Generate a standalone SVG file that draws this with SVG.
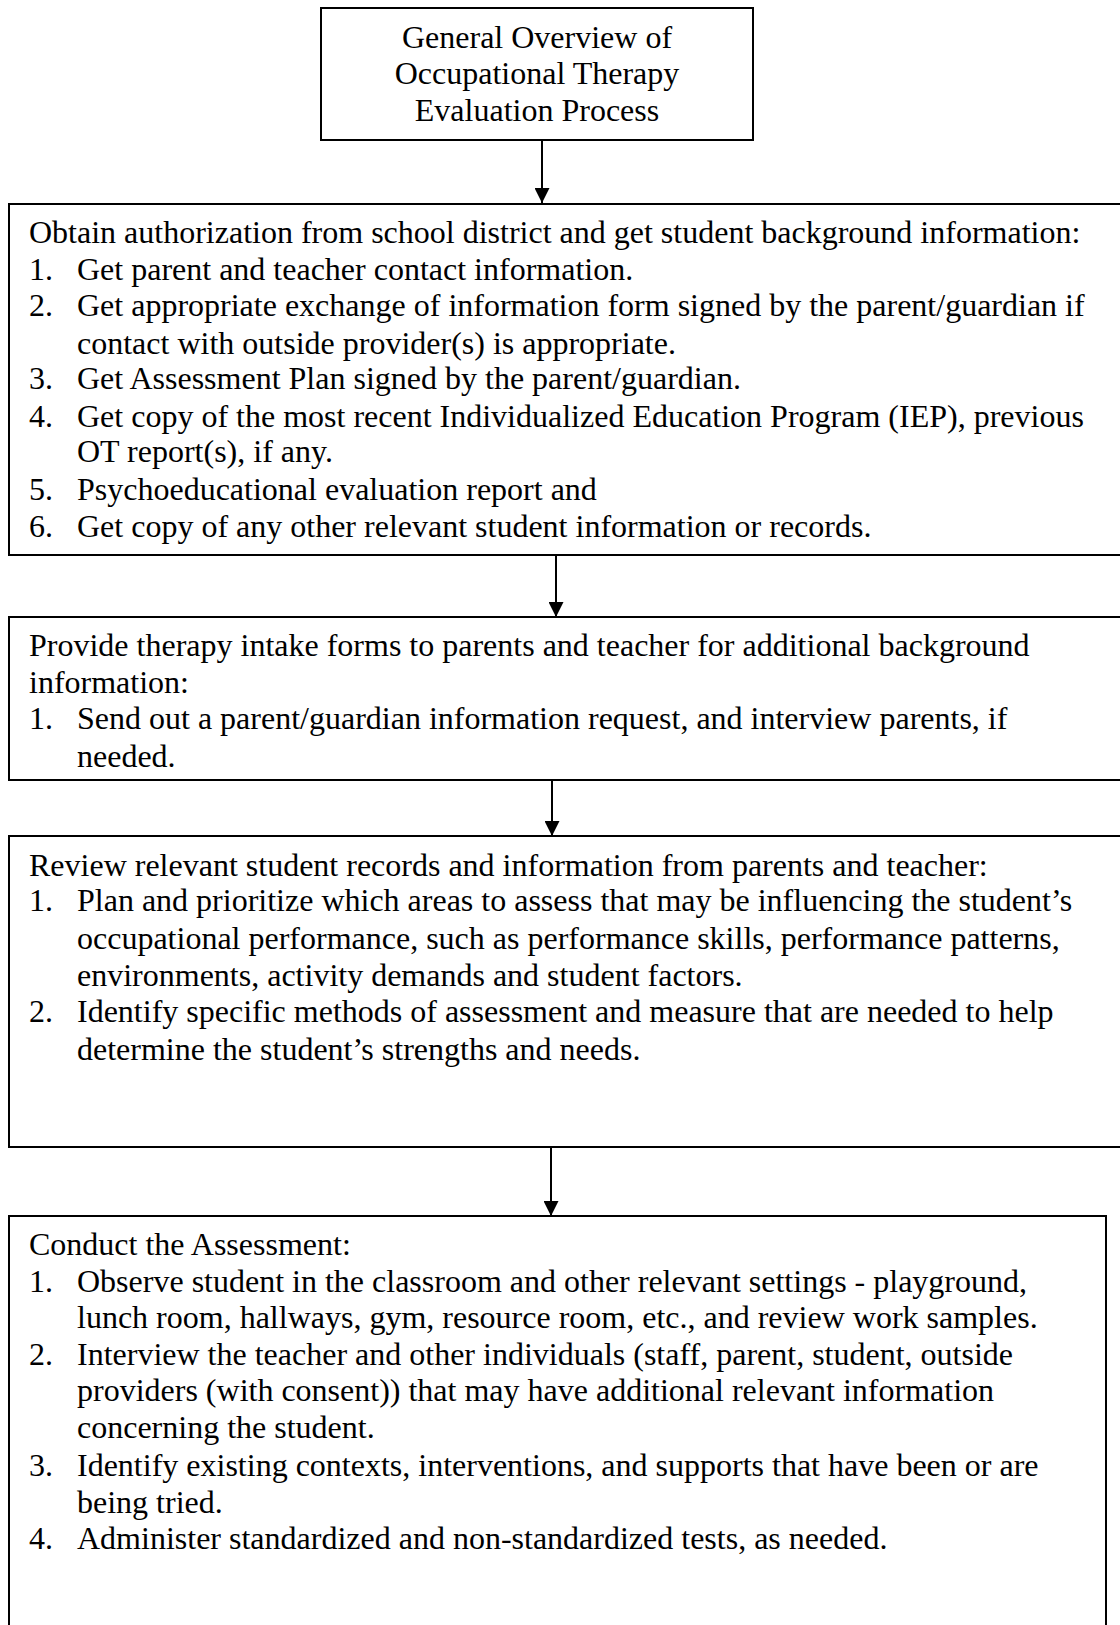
<svg xmlns="http://www.w3.org/2000/svg" width="1120" height="1625" viewBox="0 0 1120 1625">
<defs>
<marker id="ah" markerWidth="15" markerHeight="15" refX="15" refY="7.5" orient="auto" markerUnits="userSpaceOnUse">
<path d="M0,0 L15,7.5 L0,15 Z" fill="#000"/>
</marker>
<style>
.box{fill:#fff;stroke:#000;stroke-width:2}
.t{font-family:"Liberation Serif","Times New Roman",serif;font-size:32px;fill:#000}
.c{text-anchor:middle}
.edge{stroke:#000;stroke-width:2;fill:none}
</style>
</defs>
<rect width="1120" height="1625" fill="#fff"/>
<g id="connectors">
<line class="edge" x1="542" y1="140" x2="542" y2="203" marker-end="url(#ah)"/>
<line class="edge" x1="556" y1="555" x2="556" y2="617" marker-end="url(#ah)"/>
<line class="edge" x1="552" y1="774" x2="552" y2="836" marker-end="url(#ah)"/>
<line class="edge" x1="551" y1="1147" x2="551" y2="1216" marker-end="url(#ah)"/>
</g>
<g id="node-overview">
<rect class="box" x="321" y="8" width="432" height="132"/>
<text class="t c" x="537" y="48">General Overview of</text>
<text class="t c" x="537" y="84">Occupational Therapy</text>
<text class="t c" x="537" y="121">Evaluation Process</text>
</g>
<g id="node-authorization">
<rect class="box" x="9" y="204" width="1130" height="351"/>
<text class="t" x="29" y="243">Obtain authorization from school district and get student background information:</text>
<text class="t" x="29" y="280">1.</text><text class="t" x="77" y="280">Get parent and teacher contact information.</text>
<text class="t" x="29" y="316">2.</text><text class="t" x="77" y="316">Get appropriate exchange of information form signed by the parent/guardian if</text>
<text class="t" x="77" y="354">contact with outside provider(s) is appropriate.</text>
<text class="t" x="29" y="389">3.</text><text class="t" x="77" y="389">Get Assessment Plan signed by the parent/guardian.</text>
<text class="t" x="29" y="427">4.</text><text class="t" x="77" y="427">Get copy of the most recent Individualized Education Program (IEP), previous</text>
<text class="t" x="77" y="462">OT report(s), if any.</text>
<text class="t" x="29" y="500">5.</text><text class="t" x="77" y="500">Psychoeducational evaluation report and</text>
<text class="t" x="29" y="537">6.</text><text class="t" x="77" y="537">Get copy of any other relevant student information or records.</text>
</g>
<g id="node-intake">
<rect class="box" x="9" y="617" width="1130" height="163"/>
<text class="t" x="29" y="656">Provide therapy intake forms to parents and teacher for additional background</text>
<text class="t" x="29" y="693">information:</text>
<text class="t" x="29" y="729">1.</text><text class="t" x="77" y="729">Send out a parent/guardian information request, and interview parents, if</text>
<text class="t" x="77" y="767">needed.</text>
</g>
<g id="node-review">
<rect class="box" x="9" y="836" width="1130" height="311"/>
<text class="t" x="29" y="876">Review relevant student records and information from parents and teacher:</text>
<text class="t" x="29" y="911">1.</text><text class="t" x="77" y="911">Plan and prioritize which areas to assess that may be influencing the student’s</text>
<text class="t" x="77" y="949">occupational performance, such as performance skills, performance patterns,</text>
<text class="t" x="77" y="986">environments, activity demands and student factors.</text>
<text class="t" x="29" y="1022">2.</text><text class="t" x="77" y="1022">Identify specific methods of assessment and measure that are needed to help</text>
<text class="t" x="77" y="1060">determine the student’s strengths and needs.</text>
</g>
<g id="node-assessment">
<rect class="box" x="9" y="1216" width="1097" height="430"/>
<text class="t" x="29" y="1255">Conduct the Assessment:</text>
<text class="t" x="29" y="1292">1.</text><text class="t" x="77" y="1292">Observe student in the classroom and other relevant settings - playground,</text>
<text class="t" x="77" y="1328">lunch room, hallways, gym, resource room, etc., and review work samples.</text>
<text class="t" x="29" y="1365">2.</text><text class="t" x="77" y="1365">Interview the teacher and other individuals (staff, parent, student, outside</text>
<text class="t" x="77" y="1401">providers (with consent))  that may have additional relevant information</text>
<text class="t" x="77" y="1438">concerning the student.</text>
<text class="t" x="29" y="1476">3.</text><text class="t" x="77" y="1476">Identify existing contexts, interventions, and supports that have been or are</text>
<text class="t" x="77" y="1513">being tried.</text>
<text class="t" x="29" y="1549">4.</text><text class="t" x="77" y="1549">Administer standardized and non-standardized tests, as needed.</text>
</g>
</svg>
